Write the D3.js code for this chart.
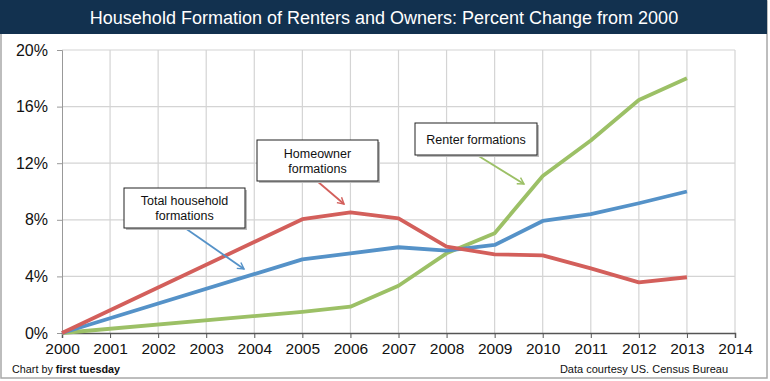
<!DOCTYPE html>
<html><head><meta charset="utf-8">
<script src="https://cdn.jsdelivr.net/npm/d3@7"></script>
<style>body{margin:0;background:#fff}svg{display:block}text{font-family:"Liberation Sans",Arial,sans-serif}</style>
</head><body>
<svg id="c" width="770" height="381"></svg>
<script>
const title = "Household Formation of Renters and Owners: Percent Change from 2000";
const years = [2000, 2005, 2006, 2007, 2008, 2009, 2010, 2011, 2012, 2013];
const totalHH = [0, 5.2, 5.63, 6.06, 5.82, 6.22, 7.92, 8.4, 9.17, 10.0];
const owners = [0, 8.04, 8.53, 8.1, 6.1, 5.56, 5.49, 4.57, 3.58, 3.94];
const renters = [0, 1.5, 1.86, 3.34, 5.63, 7.05, 11.1, 13.6, 16.47, 18.0];
const xTicks = d3.range(2000, 2015);
const yTicks = [0, 4, 8, 12, 16, 20];
const notes = [
  {lines: ["Total household", "formations"], color: "#5592c8"},
  {lines: ["Homeowner", "formations"], color: "#d35f5b"},
  {lines: ["Renter formations"], color: "#9cc066"}
];

const svg = d3.select("#c");
const x = d3.scaleLinear().domain([2000, 2014]).range([62, 735]);
const y = d3.scaleLinear().domain([0, 20]).range([333, 50]);

// frame
svg.append("rect").attr("x", 1).attr("y", 1).attr("width", 766).attr("height", 377)
  .attr("fill", "#fff").attr("stroke", "#a8a8a8").attr("stroke-width", 1.5);
svg.append("rect").attr("x", 0).attr("y", 0).attr("width", 767).attr("height", 34).attr("fill", "#12314f");
svg.append("text").attr("x", 384).attr("y", 24).attr("text-anchor", "middle")
  .attr("fill", "#fff").attr("font-size", 18).text(title);

// gridlines
svg.append("g").selectAll("line").data(yTicks.filter(d => d > 0)).join("line")
  .attr("x1", x(2000)).attr("x2", x(2014)).attr("y1", d => y(d)).attr("y2", d => y(d))
  .attr("stroke", "#d4d4d4").attr("stroke-width", 1.2);
svg.append("g").selectAll("line").data(xTicks.filter(d => d > 2000)).join("line")
  .attr("x1", d => x(d)).attr("x2", d => x(d)).attr("y1", y(0)).attr("y2", y(20))
  .attr("stroke", "#d4d4d4").attr("stroke-width", 1.2);

// axes
const yAxis = svg.append("g").attr("transform", `translate(${x(2000)},0)`)
  .call(d3.axisLeft(y).tickValues(yTicks).tickFormat(d => d + "%").tickSize(5).tickPadding(9));
yAxis.select(".domain").attr("stroke", "#999");
yAxis.selectAll(".tick line").attr("stroke", "#999");
yAxis.selectAll("text").attr("font-size", 16).attr("fill", "#111").attr("font-family", "Liberation Sans, Arial, sans-serif");

const xAxis = svg.append("g").attr("transform", `translate(0,${y(0)})`)
  .call(d3.axisBottom(x).tickValues(xTicks).tickFormat(d3.format("d")).tickSize(5).tickPadding(5));
xAxis.select(".domain").attr("stroke", "#555").attr("stroke-width", 1.5);
xAxis.selectAll(".tick line").attr("stroke", "#555");
xAxis.selectAll("text").attr("font-size", 15.5).attr("fill", "#111").attr("font-family", "Liberation Sans, Arial, sans-serif");

// lines
const line = d3.line().x((d, i) => x(years[i])).y(d => y(d));
[[renters, "#9cc066"], [totalHH, "#5592c8"], [owners, "#d35f5b"]].forEach(([vals, col]) => {
  svg.append("path").datum(vals).attr("d", line).attr("fill", "none")
    .attr("stroke", col).attr("stroke-width", 3.8).attr("stroke-linejoin", "round");
});

// annotations
const defs = svg.append("defs");
notes.forEach((n, i) => {
  defs.append("marker").attr("id", "m" + i).attr("viewBox", "0 0 10 10").attr("refX", 8).attr("refY", 5)
    .attr("markerWidth", 5).attr("markerHeight", 5).attr("orient", "auto")
    .append("path").attr("d", "M1,1 L8,5 L1,9").attr("fill", "none").attr("stroke", n.color).attr("stroke-width", 1.6);
});
const boxes = [
  {x0: 124, y0: 188, w: 121, h: 40, ax: [185, 228, 244, 269]},
  {x0: 257, y0: 140, w: 121, h: 41, ax: [317, 181, 344, 204]},
  {x0: 415, y0: 123, w: 122, h: 32, ax: [477, 155, 524, 184]}
];
notes.forEach((n, i) => {
  const b = boxes[i];
  svg.append("line").attr("x1", b.ax[0]).attr("y1", b.ax[1]).attr("x2", b.ax[2]).attr("y2", b.ax[3])
    .attr("stroke", n.color).attr("stroke-width", 1.8).attr("marker-end", `url(#m${i})`);
  svg.append("rect").attr("x", b.x0 + 2).attr("y", b.y0 + 2).attr("width", b.w).attr("height", b.h).attr("fill", "#bbb");
  svg.append("rect").attr("x", b.x0).attr("y", b.y0).attr("width", b.w).attr("height", b.h)
    .attr("fill", "#fff").attr("stroke", "#222").attr("stroke-width", 1);
  const t = svg.append("text").attr("text-anchor", "middle").attr("font-size", 12.5).attr("fill", "#111");
  const cy = b.y0 + b.h / 2 - (n.lines.length - 1) * 7.5 + 4.5;
  n.lines.forEach((l, k) => t.append("tspan").attr("x", b.x0 + b.w / 2).attr("y", cy + k * 15).text(l));
});

// footers
const f = svg.append("text").attr("x", 12).attr("y", 373).attr("font-size", 10.8).attr("fill", "#111");
f.append("tspan").text("Chart by ");
f.append("tspan").attr("font-weight", "bold").text("first tuesday");
svg.append("text").attr("x", 644).attr("y", 373).attr("text-anchor", "middle").attr("font-size", 11)
  .attr("fill", "#111").text("Data courtesy US. Census Bureau");
</script>
</body></html>
